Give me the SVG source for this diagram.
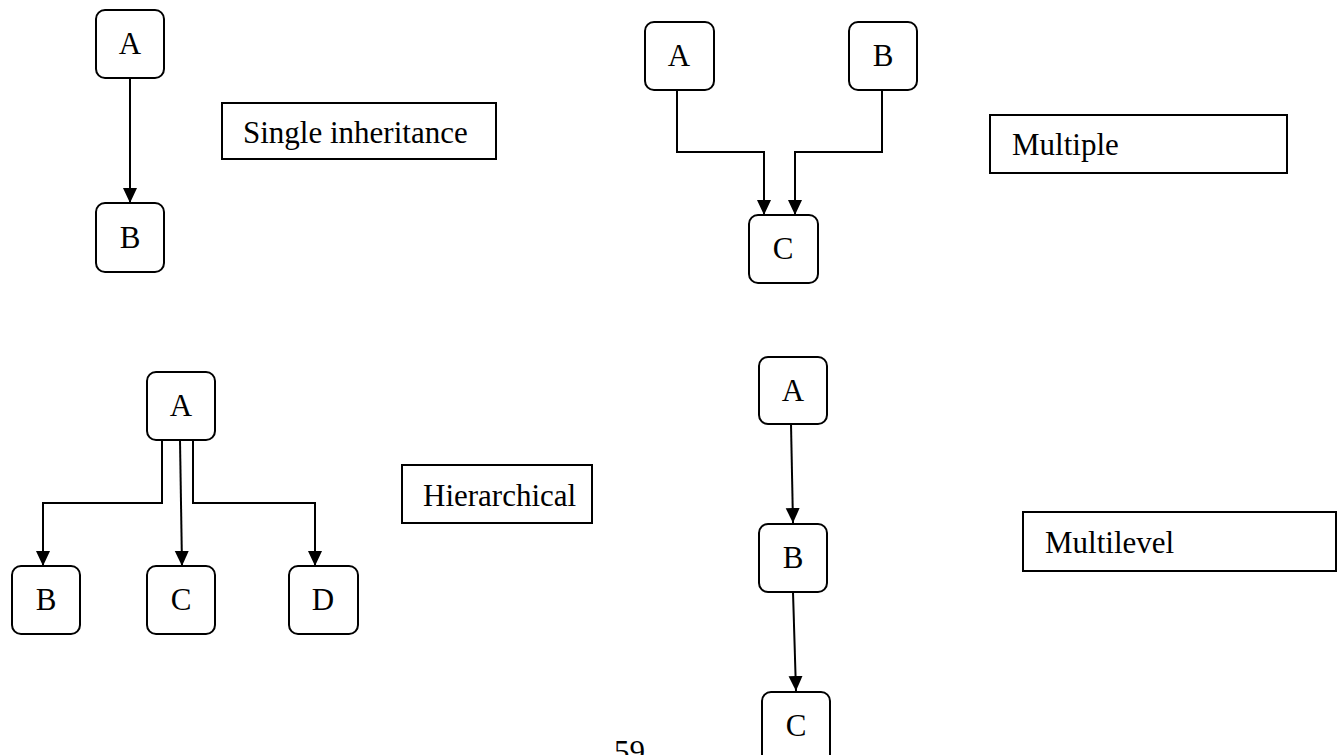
<svg xmlns="http://www.w3.org/2000/svg" width="1342" height="755" viewBox="0 0 1342 755">
<style>
.node rect{fill:#fff;stroke:#000;stroke-width:2}
.lbl rect{fill:#fff;stroke:#000;stroke-width:2}
text{font-family:"Liberation Serif","Times New Roman",serif;font-size:31px;fill:#000}
.node text{text-anchor:middle}
.conn path{fill:none;stroke:#000;stroke-width:2}
</style>
<defs>
<marker id="ah" markerUnits="userSpaceOnUse" markerWidth="16" markerHeight="16" viewBox="0 0 16 16" refX="15" refY="7" orient="auto">
<path d="M0,0 L15,7 L0,14 Z" fill="#000"/>
</marker>
</defs>
<rect width="1342" height="755" fill="#fff"/>
<g id="connectors" class="conn">
<path d="M130,78 V203" marker-end="url(#ah)"/>
<path d="M677,90 V152 H764 V215" marker-end="url(#ah)"/>
<path d="M882,90 V152 H795 V215" marker-end="url(#ah)"/>
<path d="M162,440 V503 H43 V566" marker-end="url(#ah)"/>
<path d="M180,440 L182,566" marker-end="url(#ah)"/>
<path d="M193,440 V503 H315 V566" marker-end="url(#ah)"/>
<path d="M791,424 L793,523" marker-end="url(#ah)"/>
<path d="M793,592 L796,691" marker-end="url(#ah)"/>
</g>
<g id="single-A" class="node"><rect x="96" y="10" width="68" height="68" rx="9"/><text x="130" y="54">A</text></g>
<g id="single-B" class="node"><rect x="96" y="203" width="68" height="69" rx="9"/><text x="130" y="248">B</text></g>
<g id="multiple-A" class="node"><rect x="645" y="22" width="69" height="68" rx="9"/><text x="679" y="66">A</text></g>
<g id="multiple-B" class="node"><rect x="849" y="22" width="68" height="68" rx="9"/><text x="883" y="66">B</text></g>
<g id="multiple-C" class="node"><rect x="749" y="215" width="69" height="68" rx="9"/><text x="783" y="259">C</text></g>
<g id="hier-A" class="node"><rect x="147" y="372" width="68" height="68" rx="9"/><text x="181" y="416">A</text></g>
<g id="hier-B" class="node"><rect x="12" y="566" width="68" height="68" rx="9"/><text x="46" y="610">B</text></g>
<g id="hier-C" class="node"><rect x="147" y="566" width="68" height="68" rx="9"/><text x="181" y="610">C</text></g>
<g id="hier-D" class="node"><rect x="289" y="566" width="69" height="68" rx="9"/><text x="323" y="610">D</text></g>
<g id="multi-A" class="node"><rect x="759" y="357" width="68" height="67" rx="9"/><text x="793" y="401">A</text></g>
<g id="multi-B" class="node"><rect x="759" y="524" width="68" height="68" rx="9"/><text x="793" y="568">B</text></g>
<g id="multi-C" class="node"><rect x="762" y="692" width="68" height="72" rx="9"/><text x="796" y="736">C</text></g>
<g id="label-single" class="lbl"><rect x="222" y="103" width="274" height="56"/><text x="243" y="143">Single inheritance</text></g>
<g id="label-multiple" class="lbl"><rect x="990" y="115" width="297" height="58"/><text x="1012" y="155">Multiple</text></g>
<g id="label-hier" class="lbl"><rect x="402" y="465" width="190" height="58"/><text x="423" y="506">Hierarchical</text></g>
<g id="label-multilevel" class="lbl"><rect x="1023" y="512" width="313" height="59"/><text x="1045" y="553">Multilevel</text></g>
<text id="page-number" x="614" y="762">59</text>
</svg>
